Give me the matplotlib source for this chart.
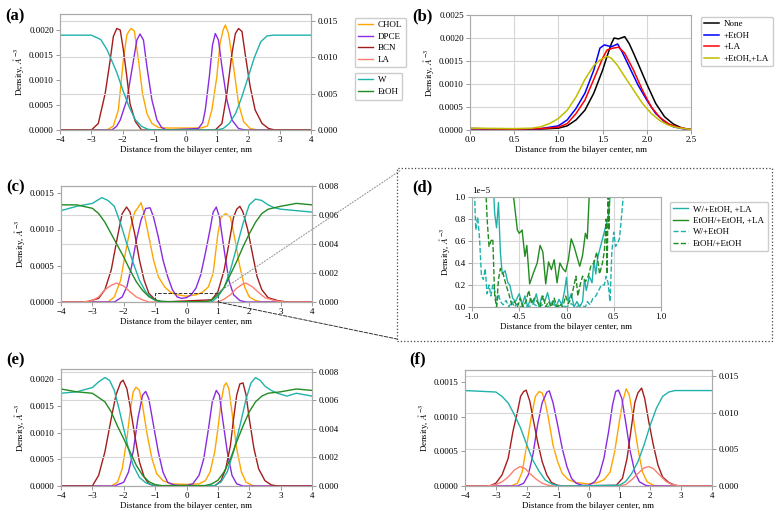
import matplotlib
matplotlib.use('Agg')
import matplotlib.pyplot as plt
from matplotlib.patches import Rectangle, ConnectionPatch
from matplotlib.ticker import FormatStrFormatter

plt.rcParams['font.family'] = ['Liberation Serif', 'DejaVu Serif']
plt.rcParams['mathtext.fontset'] = 'stix'

W_PX, H_PX = 779, 513

COLORS = {'CHOL': 'orange', 'DPCE': 'blueviolet', 'BCN': '#a31d1d', 'LA': 'salmon',
          'W': 'lightseagreen', 'EtOH': 'forestgreen'}

# ---------------- (a) no additives ----------------
A_CHOL_X = [-4, -2.5, -2.3, -2.14, -1.98, -1.87, -1.8, -1.73, -1.63, -1.5, -1.37, -1.23, -1.07, -0.86, -0.6, 0,
            0.5, 0.7, 0.84, 1.0, 1.1, 1.2, 1.27, 1.37, 1.53, 1.69, 1.85, 2.06, 2.3, 4]
A_CHOL_Y = [0, 0, 0.00008, 0.0004, 0.0014, 0.0019, 0.00198, 0.00203, 0.00198, 0.0014, 0.00073, 0.00033, 0.00013,
            0.00005, 0.00004, 0.00004, 0.00004, 0.00008, 0.0004, 0.00107, 0.00173, 0.002, 0.0021, 0.00193, 0.00127,
            0.00053, 0.00017, 0.00003, 0, 0]
A_DPCE_X = [-4, -2.35, -2.2, -2.08, -1.87, -1.71, -1.55, -1.45, -1.34, -1.23, -1.07, -0.91, -0.76, -0.6, 0.41, 0.55,
            0.63, 0.76, 0.86, 0.95, 1.05, 1.16, 1.32, 1.48, 1.69, 1.9, 4]
A_DPCE_Y = [0, 0, 0.00007, 0.0002, 0.0006, 0.0012, 0.0018, 0.00192, 0.0018, 0.00127, 0.0006, 0.0002, 0.00005, 0,
            0.00003, 0.00015, 0.0004, 0.00107, 0.0017, 0.00193, 0.0018, 0.00127, 0.0006, 0.0002, 0.00003, 0, 0]
A_BCN_X = [-4, -3.0, -2.78, -2.56, -2.4, -2.3, -2.19, -2.08, -1.98, -1.87, -1.77, -1.6, -1.4, 0.95, 1.16, 1.32,
           1.48, 1.59, 1.69, 1.8, 1.9, 2.06, 2.22, 2.44, 2.65, 2.85, 4]
A_BCN_Y = [0, 0, 0.00013, 0.00073, 0.0014, 0.00187, 0.00203, 0.002, 0.0016, 0.00107, 0.00053, 0.00017, 0, 0,
           0.00013, 0.00073, 0.00153, 0.00193, 0.00203, 0.00197, 0.00153, 0.00087, 0.0004, 0.00013, 0.00003, 0, 0]
A_LA_X = [-4, 4]
A_LA_Y = [0, 0]
A_W_X = [-4, -3, -2.7, -2.5, -2.2, -2.0, -1.8, -1.6, -1.4, -1.2, -1.0, 1.0, 1.2, 1.4, 1.6, 1.8, 2.0, 2.2, 2.4,
         2.6, 2.8, 4]
A_W_Y = [0.013, 0.013, 0.0124, 0.011, 0.008, 0.0055, 0.0032, 0.0014, 0.0005, 0.0001, 0, 0, 0.0002, 0.0009,
         0.0023, 0.0046, 0.0073, 0.010, 0.0121, 0.0129, 0.013, 0.013]
A_ETOH_X = [-4, 4]
A_ETOH_Y = [0, 0]

# ---------------- (b) BCN profiles ----------------
B_NONE_X = [0, 0.5, 0.8, 1.0, 1.1, 1.2, 1.3, 1.4, 1.5, 1.55, 1.6, 1.63, 1.68, 1.75, 1.8, 1.85, 1.9, 2.0, 2.1, 2.2,
            2.3, 2.4, 2.5]
B_NONE_Y = [0.00003, 0.00002, 0.00002, 0.00004, 0.00009, 0.00022, 0.00043, 0.0008, 0.0013, 0.0016, 0.00188, 0.002,
            0.00198, 0.00203, 0.00188, 0.00167, 0.00145, 0.001, 0.00058, 0.00029, 0.00013, 0.00004, 0.00001]
B_ETOH_X = [0, 0.5, 0.8, 1.0, 1.1, 1.2, 1.3, 1.4, 1.47, 1.52, 1.6, 1.67, 1.72, 1.8, 1.9, 2.0, 2.1, 2.2, 2.3, 2.4, 2.5]
B_ETOH_Y = [0.00003, 0.00002, 0.00003, 0.00009, 0.00022, 0.00047, 0.0008, 0.0013, 0.00178, 0.00185, 0.00181,
            0.00187, 0.0017, 0.00138, 0.00098, 0.00065, 0.00036, 0.00018, 0.00007, 0.00003, 0.00001]
B_LA_X = [0, 0.5, 0.8, 1.0, 1.1, 1.2, 1.3, 1.4, 1.5, 1.55, 1.62, 1.68, 1.75, 1.85, 1.95, 2.05, 2.15, 2.25, 2.35, 2.5]
B_LA_Y = [0.00003, 0.00002, 0.00003, 0.00006, 0.00014, 0.00036, 0.00065, 0.0011, 0.00156, 0.00174, 0.00178, 0.0018,
          0.00167, 0.0013, 0.00087, 0.0005, 0.00027, 0.00013, 0.00006, 0.00001]
B_BOTH_X = [0, 0.5, 0.7, 0.8, 0.9, 1.0, 1.1, 1.2, 1.3, 1.4, 1.47, 1.55, 1.6, 1.67, 1.75, 1.85, 1.95, 2.05, 2.15,
            2.25, 2.35, 2.5]
B_BOTH_Y = [0.00004, 0.00003, 0.00004, 0.00007, 0.00014, 0.00025, 0.00043, 0.00072, 0.0011, 0.0014, 0.00152, 0.0016,
            0.00156, 0.0014, 0.00116, 0.00087, 0.00058, 0.00036, 0.0002, 0.0001, 0.00005, 0.00001]

# ---------------- (c) +EtOH, +LA ----------------
C_CHOL_X = [-4, -2.5, -2.3, -2.1, -1.95, -1.8, -1.65, -1.55, -1.45, -1.35, -1.2, -1.05, -0.9, -0.7, -0.5, -0.3, 0,
            0.3, 0.5, 0.7, 0.85, 1.0, 1.1, 1.25, 1.4, 1.55, 1.7, 1.85, 2.0, 2.2, 2.4, 4]
C_CHOL_Y = [0, 0, 0.00007, 0.0003, 0.00067, 0.001, 0.00124, 0.0013, 0.00137, 0.00122, 0.0009, 0.00058, 0.00035,
            0.00021, 0.00013, 0.0001, 0.00008, 0.0001, 0.00013, 0.00021, 0.0004, 0.00094, 0.00117, 0.00122, 0.00117,
            0.00085, 0.00049, 0.00021, 0.00007, 0.00002, 0, 0]
C_DPCE_X = [-4, -2.3, -2.05, -1.9, -1.75, -1.6, -1.45, -1.3, -1.16, -1.05, -0.9, -0.75, -0.6, -0.45, -0.3, -0.15, 0,
            0.15, 0.3, 0.45, 0.6, 0.75, 0.85, 0.95, 1.05, 1.2, 1.35, 1.5, 1.7, 1.9, 4]
C_DPCE_Y = [0, 0, 0.00007, 0.00021, 0.00049, 0.00085, 0.00113, 0.00129, 0.0013, 0.00117, 0.0009, 0.00058, 0.00035,
            0.00017, 0.00007, 0.00005, 0.00006, 0.0001, 0.00019, 0.00037, 0.00067, 0.001, 0.00124, 0.00131, 0.00117,
            0.00072, 0.0003, 0.0001, 0.00002, 0, 0]
C_BCN_X = [-4, -3.2, -2.8, -2.6, -2.4, -2.2, -2.05, -1.91, -1.8, -1.65, -1.5, -1.35, -1.2, -1.0, -0.8, 0.8, 1.0, 1.2,
           1.35, 1.5, 1.6, 1.7, 1.8, 1.95, 2.1, 2.25, 2.4, 2.6, 2.9, 3.2, 4]
C_BCN_Y = [0, 0, 0.00005, 0.00017, 0.00044, 0.0009, 0.00122, 0.00131, 0.00124, 0.00094, 0.00058, 0.0003, 0.00012,
           0.00003, 0, 0.00003, 0.00014, 0.00044, 0.0008, 0.00117, 0.00128, 0.00132, 0.00124, 0.001, 0.00067, 0.00035,
           0.00017, 0.00006, 0.00002, 0, 0]
C_LA_X = [-4, -3.3, -3.0, -2.8, -2.6, -2.4, -2.23, -2.0, -1.8, -1.6, -1.4, -1.2, 1.0, 1.2, 1.4, 1.6, 1.8, 1.9, 2.1,
          2.3, 2.5, 2.8, 3.1, 4]
C_LA_Y = [0, 0, 0.00002, 0.00007, 0.00017, 0.00023, 0.00026, 0.00022, 0.00014, 0.00007, 0.00003, 0, 0, 0.00004,
          0.0001, 0.00019, 0.00025, 0.00026, 0.00021, 0.00013, 0.00006, 0.00002, 0, 0]
C_W_X = [-4, -3.5, -3.0, -2.7, -2.5, -2.3, -2.1, -1.9, -1.7, -1.5, -1.3, -1.1, -0.9, -0.7, 0.8, 1.0, 1.2, 1.4, 1.6,
         1.8, 2.0, 2.2, 2.4, 2.6, 2.8, 3.0, 3.5, 4]
C_W_Y = [0.0063, 0.0066, 0.0068, 0.0072, 0.007, 0.0066, 0.0054, 0.004, 0.0027, 0.0015, 0.0007, 0.00025, 0.00005, 0,
         0, 0.00037, 0.001, 0.0022, 0.0038, 0.0054, 0.0067, 0.0071, 0.007, 0.0067, 0.0065, 0.0064, 0.0063, 0.0062]
C_ETOH_X = [-4, -3.5, -3, -2.8, -2.6, -2.4, -2.2, -2.0, -1.8, -1.6, -1.4, -1.2, -1.0, -0.8, -0.5, 0.6, 0.8, 1.0, 1.2,
            1.4, 1.6, 1.8, 2.0, 2.2, 2.4, 2.6, 3.0, 3.5, 4]
C_ETOH_Y = [0.0067, 0.0067, 0.00646, 0.0061, 0.0055, 0.0047, 0.0039, 0.0031, 0.0022, 0.0014, 0.0008, 0.00037,
            0.00014, 0.00005, 0.00002, 0.00002, 0.00014, 0.0005, 0.001, 0.0019, 0.0028, 0.0038, 0.0047, 0.0055, 0.0061,
            0.0064, 0.0066, 0.0068, 0.0067]

# ---------------- (d) zoom on bilayer centre (units of 1e-5) ----------------
D_SCALE = 1e-5
D_W_LA_X = [-1.0, -0.8, -0.78, -0.76, -0.74, -0.72, -0.70, -0.68, -0.65, -0.62, -0.60, -0.57, -0.54, -0.50, -0.47,
            -0.44, -0.41, -0.38, -0.35, -0.32, -0.29, -0.26, -0.23, -0.20, -0.17, -0.14, -0.11, -0.08, -0.05, -0.02,
            0.0, 0.02, 0.05, 0.08, 0.11, 0.14, 0.17, 0.19, 0.21, 0.24, 0.27, 0.29, 0.31, 0.33, 0.36, 0.39, 0.42, 0.44,
            0.46, 0.48, 1.0]
D_W_LA_Y = [3.0, 2.0, 1.2, 0.85, 0.72, 0.95, 0.5, 0.3, 0.33, 0.22, 0.2, 0.08, 0.05, 0.12, 0.02, 0.1, 0.0, 0.08,
            0.03, 0.12, 0.0, 0.1, 0.05, 0.13, 0.02, 0.06, 0.0, 0.07, 0.02, 0.15, 0.27, 0.05, 0.12, 0.0, 0.05, 0.0,
            0.05, 0.25, 0.15, 0.28, 0.22, 0.42, 0.3, 0.45, 0.55, 0.65, 0.75, 0.8, 1.0, 1.5, 3.0]
D_ETOH_LA_X = [-1.0, -0.6, -0.56, -0.52, -0.5, -0.47, -0.44, -0.42, -0.39, -0.35, -0.31, -0.28, -0.25, -0.22, -0.19,
               -0.16, -0.13, -0.1, -0.07, -0.04, -0.01, 0.02, 0.05, 0.08, 0.11, 0.14, 0.17, 0.2, 0.22, 0.25, 0.3, 1.0]
D_ETOH_LA_Y = [5, 2.0, 1.0, 0.7, 0.67, 0.7, 0.46, 0.56, 0.21, 0.31, 0.4, 0.56, 0.5, 0.21, 0.41, 0.34, 0.43, 0.22,
               0.4, 0.35, 0.32, 0.43, 0.62, 0.55, 0.46, 0.37, 0.47, 0.67, 0.62, 1.2, 2.0, 5]
D_W_X = [-1.0, -0.98, -0.96, -0.94, -0.92, -0.9, -0.88, -0.86, -0.84, -0.82, -0.8, -0.78, -0.76, -0.74, -0.72, -0.7,
         -0.67, -0.64, -0.61, -0.58, -0.55, -0.52, -0.49, -0.45, -0.4, -0.35, -0.3, -0.25, -0.2, -0.15, -0.1, -0.05,
         0.0, 0.05, 0.1, 0.15, 0.2, 0.22, 0.25, 0.28, 0.31, 0.34, 0.37, 0.4, 0.42, 0.44, 0.46, 0.48, 0.5, 0.52, 0.54,
         0.56, 0.58, 0.6, 0.62, 1.0]
D_W_Y = [1.5, 1.2, 0.7, 0.82, 0.62, 0.28, 0.25, 0.35, 0.12, 0.2, 0.1, 0.2, 0.15, 0.02, 0.12, 0.05, 0.02, 0.06, 0.0,
         0.05, 0.0, 0.03, 0.0, 0.02, 0.0, 0.03, 0.0, 0.02, 0.0, 0.03, 0.0, 0.02, 0.0, 0.03, 0.0, 0.02, 0.0, 0.05,
         0.02, 0.08, 0.1, 0.15, 0.2, 0.2, 0.28, 0.22, 0.05, 0.5, 0.68, 0.55, 0.58, 0.62, 0.8, 1.0, 1.5, 3.0]
D_ETOH_X = [-1.0, -0.87, -0.85, -0.84, -0.82, -0.8, -0.78, -0.76, -0.74, -0.72, -0.7, -0.67, -0.64, -0.61, -0.58,
            -0.55, -0.52, -0.49, -0.46, -0.43, -0.4, -0.37, -0.34, -0.31, -0.28, -0.25, -0.22, -0.19, -0.16, -0.13,
            -0.1, -0.07, -0.04, -0.01, 0.02, 0.05, 0.08, 0.1, 0.12, 0.15, 0.17, 0.2, 0.23, 0.26, 0.29, 0.32, 0.35,
            0.38, 0.4, 0.42, 0.43, 0.44, 0.45, 0.46, 0.5, 1.0]
D_ETOH_Y = [3.0, 1.5, 1.0, 0.8, 0.55, 0.6, 0.62, 0.1, 0.0, 0.25, 0.35, 0.3, 0.2, 0.12, 0.02, 0.05, 0.0, 0.08, 0.0,
            0.05, 0.15, 0.03, 0.08, 0.05, 0.0, 0.1, 0.0, 0.05, 0.0, 0.08, 0.0, 0.03, 0.0, 0.1, 0.03, 0.08, 0.2, 0.28,
            0.1, 0.22, 0.28, 0.23, 0.28, 0.38, 0.4, 0.5, 0.3, 0.4, 0.5, 0.8, 0.3, 1.0, 0.7, 1.2, 2.0, 3.0]

# ---------------- (e) +EtOH ----------------
E_CHOL_X = [-4, -2.4, -2.2, -2.05, -1.9, -1.8, -1.7, -1.61, -1.5, -1.4, -1.25, -1.1, -0.95, -0.75, -0.5, 0, 0.4, 0.6,
            0.75, 0.9, 1.0, 1.1, 1.2, 1.27, 1.35, 1.45, 1.6, 1.75, 1.9, 2.1, 2.3, 4]
E_CHOL_Y = [0, 0, 0.00007, 0.00032, 0.00088, 0.00138, 0.00176, 0.00185, 0.00179, 0.0015, 0.00095, 0.00051, 0.00023,
            0.0001, 0.00004, 0.00003, 0.00004, 0.0001, 0.00026, 0.00064, 0.00107, 0.00157, 0.00188, 0.00193, 0.00182,
            0.00138, 0.0007, 0.00026, 0.00007, 0.00001, 0, 0]
E_DPCE_X = [-4, -2.3, -2.0, -1.85, -1.7, -1.55, -1.4, -1.3, -1.2, -1.05, -0.9, -0.75, -0.6, -0.4, -0.2, 0, 0.2, 0.4,
            0.55, 0.7, 0.82, 0.95, 1.05, 1.15, 1.3, 1.45, 1.6, 1.8, 4]
E_DPCE_Y = [0, 0, 0.00007, 0.00026, 0.00064, 0.00126, 0.0017, 0.00177, 0.00163, 0.00113, 0.00064, 0.00026, 0.00007,
            0.00002, 0.00001, 0.00001, 0.00004, 0.0002, 0.00051, 0.00107, 0.00157, 0.00179, 0.0017, 0.00126, 0.00064,
            0.0002, 0.00004, 0, 0]
E_BCN_X = [-4, -3.0, -2.8, -2.6, -2.4, -2.25, -2.1, -2.02, -1.9, -1.8, -1.65, -1.5, -1.35, -1.2, -1.0, 0.9, 1.1, 1.25,
           1.4, 1.5, 1.6, 1.7, 1.8, 1.9, 2.0, 2.15, 2.3, 2.5, 2.7, 2.9, 4]
E_BCN_Y = [0, 0, 0.0002, 0.00064, 0.00126, 0.0017, 0.00194, 0.00198, 0.00182, 0.0015, 0.00095, 0.00045, 0.00017,
           0.00004, 0, 0, 0.0001, 0.00032, 0.00076, 0.00126, 0.0017, 0.00191, 0.00193, 0.0017, 0.00126, 0.0007,
           0.00032, 0.0001, 0.00002, 0, 0]
E_W_X = [-4, -3.5, -3.0, -2.8, -2.6, -2.45, -2.3, -2.15, -2.0, -1.85, -1.7, -1.5, -1.3, -1.1, -0.9, 0.9, 1.1, 1.3,
         1.5, 1.7, 1.9, 2.05, 2.2, 2.35, 2.5, 2.7, 2.9, 3.2, 3.5, 4]
E_W_Y = [0.0065, 0.0066, 0.0069, 0.0073, 0.0076, 0.0074, 0.0067, 0.0054, 0.004, 0.0026, 0.00145, 0.0006, 0.00023,
         0.00008, 0, 0.00003, 0.00028, 0.001, 0.0024, 0.0042, 0.0061, 0.0072, 0.0076, 0.0074, 0.007, 0.0067, 0.0065,
         0.0063, 0.0065, 0.0063]
E_ETOH_X = [-4, -3.5, -3.0, -2.8, -2.6, -2.4, -2.2, -2.0, -1.8, -1.6, -1.4, -1.2, -1.0, -0.8, 0.6, 0.8, 1.0, 1.2,
            1.4, 1.6, 1.8, 2.0, 2.2, 2.4, 2.6, 3.0, 3.5, 4]
E_ETOH_Y = [0.0068, 0.0066, 0.0065, 0.0062, 0.0059, 0.0052, 0.0042, 0.0033, 0.0024, 0.00145, 0.00075, 0.0003, 0.0001,
            0.00003, 0.00003, 0.00014, 0.0004, 0.001, 0.0019, 0.0031, 0.0042, 0.0052, 0.0059, 0.0063, 0.0065, 0.0066,
            0.0068, 0.0067]

# ---------------- (f) +LA ----------------
F_CHOL_X = [-4, -2.5, -2.3, -2.15, -2.0, -1.85, -1.72, -1.6, -1.5, -1.4, -1.3, -1.15, -1.0, -0.85, -0.65, -0.4, 0,
            0.3, 0.5, 0.7, 0.85, 1.0, 1.1, 1.22, 1.32, 1.45, 1.6, 1.75, 1.9, 2.1, 2.3, 4]
F_CHOL_Y = [0, 0, 0.00004, 0.0002, 0.00059, 0.001, 0.00129, 0.00136, 0.00134, 0.0012, 0.00098, 0.00059, 0.00035,
            0.00018, 0.00009, 0.00005, 0.00003, 0.00005, 0.00009, 0.0002, 0.0005, 0.00093, 0.0012, 0.0014, 0.00131,
            0.00098, 0.00054, 0.0002, 0.00006, 0.00001, 0, 0]
F_DPCE_X = [-4, -2.3, -2.1, -1.95, -1.8, -1.65, -1.5, -1.35, -1.27, -1.15, -1.0, -0.85, -0.7, -0.55, -0.4, -0.2, 0,
            0.2, 0.35, 0.5, 0.65, 0.78, 0.88, 0.97, 1.08, 1.2, 1.35, 1.5, 1.65, 1.85, 2.0, 4]
F_DPCE_Y = [0, 0, 0.00004, 0.00016, 0.00045, 0.00088, 0.0012, 0.00135, 0.00137, 0.0012, 0.00088, 0.00054, 0.00028,
            0.00011, 0.00004, 0.00001, 0.00001, 0.00006, 0.00016, 0.0004, 0.00078, 0.00117, 0.00136, 0.00138, 0.00126,
            0.00093, 0.0005, 0.0002, 0.00006, 0.00001, 0, 0]
F_BCN_X = [-4, -3.2, -3.0, -2.8, -2.6, -2.45, -2.3, -2.2, -2.1, -2.02, -1.9, -1.8, -1.65, -1.5, -1.35, -1.2, -1.0,
           -0.8, 0.9, 1.1, 1.25, 1.4, 1.5, 1.6, 1.72, 1.82, 1.95, 2.1, 2.25, 2.4, 2.6, 2.8, 3.0, 4]
F_BCN_Y = [0, 0, 0.00004, 0.00016, 0.0004, 0.00078, 0.00107, 0.00129, 0.00136, 0.00138, 0.00122, 0.00098, 0.00064,
           0.00035, 0.00016, 0.00005, 0.00001, 0, 0.00001, 0.00011, 0.0004, 0.00088, 0.0012, 0.00134, 0.00141,
           0.00126, 0.00093, 0.00059, 0.0003, 0.00013, 0.00005, 0.00001, 0, 0]
F_LA_X = [-4, -3.3, -3.0, -2.8, -2.6, -2.4, -2.22, -2.05, -1.9, -1.7, -1.5, -1.3, -1.1, 1.0, 1.2, 1.4, 1.6, 1.8, 1.95,
          2.1, 2.3, 2.5, 2.7, 3.0, 4]
F_LA_Y = [0, 0, 0.00002, 0.00006, 0.00013, 0.00023, 0.00028, 0.00025, 0.00018, 0.0001, 0.00004, 0.00001, 0, 0,
          0.00002, 0.00009, 0.00018, 0.00026, 0.00028, 0.00025, 0.00016, 0.00007, 0.00002, 0, 0]
F_W_X = [-4, -3.0, -2.8, -2.6, -2.4, -2.2, -2.0, -1.8, -1.6, -1.4, -1.2, -1.0, -0.8, 1.0, 1.2, 1.4, 1.6, 1.8, 2.0,
         2.2, 2.4, 2.6, 2.8, 4]
F_W_Y = [0.013, 0.0128, 0.0122, 0.0113, 0.0097, 0.0079, 0.0056, 0.0035, 0.002, 0.0008, 0.0003, 0.00005, 0, 0.0001,
         0.0006, 0.0017, 0.0033, 0.0056, 0.0083, 0.0106, 0.0122, 0.0128, 0.013, 0.013]

TICK_FS = 6.5
LABEL_FS = 6.5
XLABEL = 'Distance from the bilayer center, nm'
YLABEL = 'Density, $\\AA^{-3}$'
FRAME = '#aaaaaa'
GRID = '#d6d6d6'

fig = plt.figure(figsize=(W_PX / 100, H_PX / 100), dpi=100)


def box(left, top, right, bottom):
    # pixel box -> figure fraction rect
    return [left / W_PX, 1 - bottom / H_PX, (right - left) / W_PX, (bottom - top) / H_PX]


def fx(px):
    return px / W_PX


def fy(py):
    return 1 - py / H_PX


def style(ax):
    for s in ax.spines.values():
        s.set_color(FRAME)
        s.set_linewidth(0.8)
    ax.tick_params(labelsize=TICK_FS, length=3, width=0.6, color='#888888', pad=1.5)


def profile_panel(pos, left, right, ylim_l, yt_l, ylim_r, yt_r):
    ax = fig.add_axes(box(*pos))
    ax2 = ax.twinx()
    for name, x, y in left:
        ax.plot(x, y, color=COLORS[name], lw=1.0, label=name)
    for name, x, y in right:
        ax2.plot(x, y, color=COLORS[name], lw=1.0, label=name)
    ax.set_xlim(-4, 4)
    ax.set_xticks(range(-4, 5))
    ax.set_ylim(*ylim_l)
    ax.set_yticks(yt_l)
    ax.yaxis.set_major_formatter(FormatStrFormatter('%.4f'))
    ax2.set_ylim(*ylim_r)
    ax2.set_yticks(yt_r)
    ax2.yaxis.set_major_formatter(FormatStrFormatter('%.3f'))
    ax2.grid(axis='y', color=GRID, lw=0.8)
    ax.set_xlabel(XLABEL, fontsize=LABEL_FS, labelpad=1)
    ax.set_ylabel(YLABEL, fontsize=LABEL_FS, labelpad=2)
    style(ax)
    style(ax2)
    return ax, ax2


# (a)
ax_a, ax_a2 = profile_panel(
    (60, 14, 311, 130),
    [('CHOL', A_CHOL_X, A_CHOL_Y), ('DPCE', A_DPCE_X, A_DPCE_Y), ('BCN', A_BCN_X, A_BCN_Y), ('LA', A_LA_X, A_LA_Y)],
    [('W', A_W_X, A_W_Y), ('EtOH', A_ETOH_X, A_ETOH_Y)],
    (0, 0.00232), [0, 0.0005, 0.001, 0.0015, 0.002],
    (0, 0.0159), [0, 0.005, 0.010, 0.015])
leg_kw = dict(loc='upper left', bbox_transform=fig.transFigure, fontsize=TICK_FS, handlelength=1.6,
              borderpad=0.4, labelspacing=0.35, handletextpad=0.6, edgecolor='#cccccc', framealpha=1)
h1, l1 = ax_a.get_legend_handles_labels()
h2, l2 = ax_a2.get_legend_handles_labels()
fig.legend(h1, l1, bbox_to_anchor=(fx(350), fy(13)), **leg_kw)
fig.legend(h2, l2, bbox_to_anchor=(fx(350), fy(68)), **leg_kw)

# (b)
ax_b = fig.add_axes(box(470, 15, 691, 130))
ax_b.plot(B_NONE_X, B_NONE_Y, color='black', lw=1.1, label='None')
ax_b.plot(B_ETOH_X, B_ETOH_Y, color='blue', lw=1.1, label='+EtOH')
ax_b.plot(B_LA_X, B_LA_Y, color='red', lw=1.1, label='+LA')
ax_b.plot(B_BOTH_X, B_BOTH_Y, color='y', lw=1.1, label='+EtOH,+LA')
ax_b.set_xlim(0, 2.5)
ax_b.set_ylim(0, 0.0025)
ax_b.set_xticks([0, 0.5, 1.0, 1.5, 2.0, 2.5])
ax_b.xaxis.set_major_formatter(FormatStrFormatter('%.1f'))
ax_b.set_yticks([0, 0.0005, 0.001, 0.0015, 0.002, 0.0025])
ax_b.yaxis.set_major_formatter(FormatStrFormatter('%.4f'))
ax_b.grid(color=GRID, lw=0.8)
ax_b.set_axisbelow(True)
ax_b.set_xlabel(XLABEL, fontsize=LABEL_FS, labelpad=1)
ax_b.set_ylabel(YLABEL, fontsize=LABEL_FS, labelpad=2)
style(ax_b)
ax_b.legend(bbox_to_anchor=(fx(696), fy(12)), **leg_kw)

# (c)
ax_c, ax_c2 = profile_panel(
    (61, 186, 312, 302),
    [('CHOL', C_CHOL_X, C_CHOL_Y), ('DPCE', C_DPCE_X, C_DPCE_Y), ('BCN', C_BCN_X, C_BCN_Y), ('LA', C_LA_X, C_LA_Y)],
    [('W', C_W_X, C_W_Y), ('EtOH', C_ETOH_X, C_ETOH_Y)],
    (0, 0.0016), [0, 0.0005, 0.001, 0.0015],
    (0, 0.008), [0, 0.002, 0.004, 0.006, 0.008])
ax_c.add_patch(Rectangle((-1, 0), 2, 0.00013, fill=False, ls='--', lw=0.7, ec='#333333', clip_on=False, zorder=5))

# (d)
ax_d = fig.add_axes(box(472, 197, 661, 307))
ax_d.plot(D_W_LA_X, [v * D_SCALE for v in D_W_LA_Y], color=COLORS['W'], lw=1.0, label='W/+EtOH, +LA')
ax_d.plot(D_ETOH_LA_X, [v * D_SCALE for v in D_ETOH_LA_Y], color=COLORS['EtOH'], lw=1.0, label='EtOH/+EtOH, +LA')
ax_d.plot(D_W_X, [v * D_SCALE for v in D_W_Y], color=COLORS['W'], lw=1.0, ls='--', label='W/+EtOH')
ax_d.plot(D_ETOH_X, [v * D_SCALE for v in D_ETOH_Y], color=COLORS['EtOH'], lw=1.0, ls='--', label='EtOH/+EtOH')
ax_d.set_xlim(-1, 1)
ax_d.set_ylim(0, 1e-5)
ax_d.set_xticks([-1.0, -0.5, 0.0, 0.5, 1.0])
ax_d.xaxis.set_major_formatter(FormatStrFormatter('%.1f'))
ax_d.set_yticks([0, 0.2e-5, 0.4e-5, 0.6e-5, 0.8e-5, 1e-5])
ax_d.yaxis.get_offset_text().set_fontsize(TICK_FS)
ax_d.grid(color=GRID, lw=0.8)
ax_d.set_axisbelow(True)
ax_d.set_xlabel(XLABEL, fontsize=LABEL_FS, labelpad=1)
ax_d.set_ylabel(YLABEL, fontsize=LABEL_FS, labelpad=2)
style(ax_d)
ax_d.legend(bbox_to_anchor=(fx(665), fy(197)), **leg_kw)

# (e)
profile_panel(
    (61, 369, 312, 486),
    [('CHOL', E_CHOL_X, E_CHOL_Y), ('DPCE', E_DPCE_X, E_DPCE_Y), ('BCN', E_BCN_X, E_BCN_Y)],
    [('W', E_W_X, E_W_Y), ('EtOH', E_ETOH_X, E_ETOH_Y)],
    (0, 0.00219), [0, 0.0005, 0.001, 0.0015, 0.002],
    (0, 0.0082), [0, 0.002, 0.004, 0.006, 0.008])

# (f)
profile_panel(
    (465, 370, 712, 486),
    [('CHOL', F_CHOL_X, F_CHOL_Y), ('DPCE', F_DPCE_X, F_DPCE_Y), ('BCN', F_BCN_X, F_BCN_Y), ('LA', F_LA_X, F_LA_Y)],
    [('W', F_W_X, F_W_Y)],
    (0, 0.00167), [0, 0.0005, 0.001, 0.0015],
    (0, 0.0158), [0, 0.005, 0.010, 0.015])

# dotted frame around (d) and the zoom connectors from (c)
fig.add_artist(Rectangle((fx(397), fy(341)), fx(772) - fx(397), fy(168) - fy(341), transform=fig.transFigure,
                         fill=False, ls=':', lw=0.9, ec='#444444'))
fig.add_artist(ConnectionPatch(xyA=(1.0, 0.00013), coordsA='data', axesA=ax_c,
                               xyB=(fx(401), fy(170)), coordsB='figure fraction',
                               ls=':', lw=0.8, color='#999999'))
fig.add_artist(ConnectionPatch(xyA=(1.0, 0.0), coordsA='data', axesA=ax_c,
                               xyB=(fx(397), fy(339)), coordsB='figure fraction',
                               ls='--', lw=0.7, color='#333333'))

# panel letters
for lab, px, py in [('(a)', 5, 16), ('(b)', 412, 16), ('(c)', 6, 187), ('(d)', 412, 187), ('(e)', 6, 360),
                    ('(f)', 409, 359)]:
    fig.text(fx(px), fy(py), lab, fontsize=12, fontweight='bold', va='center', ha='left')

fig.savefig('out.png', dpi=100)
